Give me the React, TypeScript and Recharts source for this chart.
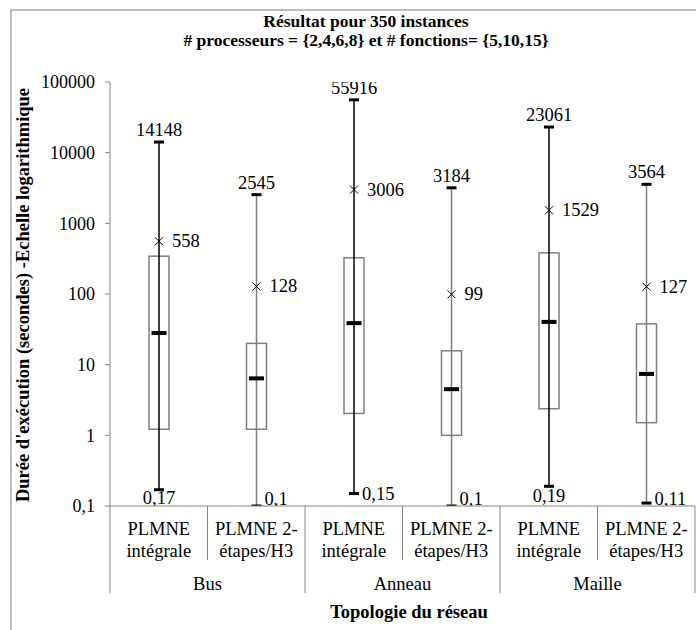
import React from 'react';
import { ComposedChart, Bar, XAxis, YAxis } from 'recharts';

// Values (log scale, seconds)
const groups = ['Bus', 'Anneau', 'Maille'];
const methodLines = [
  ['PLMNE', 'intégrale'],
  ['PLMNE 2-', 'étapes/H3'],
];
const mins = [0.17, 0.1, 0.15, 0.1, 0.19, 0.11];
const q1s = [1.22, 1.22, 2.04, 1.0, 2.38, 1.51];
const medians = [28, 6.4, 38.7, 4.5, 40.3, 7.4];
const q3s = [343, 20, 325, 15.7, 382, 37.8];
const means = [558, 128, 3006, 99, 1529, 127];
const maxs = [14148, 2545, 55916, 3184, 23061, 3564];
const yTicks = [0.1, 1, 10, 100, 1000, 10000, 100000];

const rows = mins.map((_, i) => ({
  key: `c${i}`,
  group: groups[Math.floor(i / 2)],
  method: i % 2,
  min: mins[i],
  q1: q1s[i],
  median: medians[i],
  q3: q3s[i],
  mean: means[i],
  max: maxs[i],
  range: [mins[i], maxs[i]],
}));

// layout
const W = 696;
const H = 630;
const PLOT_LEFT = 110;
const PLOT_RIGHT = 695;
const PLOT_TOP = 82;
const PLOT_BOTTOM = 506;
const BAND = (PLOT_RIGHT - PLOT_LEFT) / rows.length;
const FONT = "'Liberation Serif', Tinos, 'Times New Roman', Times, serif";
const FS = 18.5;
const AXIS_GRAY = '#868686';
const minLabelSide = ['below', 'right', 'right', 'right', 'below', 'right'];

const fmt = (v: number) => String(v).replace('.', ',');

function BoxShape(props: any) {
  const { x, y, width, height, index } = props;
  const d = props.payload ?? props;
  const cx = x + width / 2;
  const lmax = Math.log10(d.max);
  const ppd = height / (lmax - Math.log10(d.min));
  const toY = (v: number) => y + (lmax - Math.log10(v)) * ppd;
  const whisker = d.method === 0 ? '#000' : '#7f7f7f';
  const yq3 = toY(d.q3);
  const yq1 = toY(d.q1);
  const ymed = toY(d.median);
  const ymean = toY(d.mean);
  const ymin = toY(d.min);
  const ymax = toY(d.max);
  const side = minLabelSide[index];
  return (
    <g>
      <rect x={x} y={yq3} width={width} height={yq1 - yq3} fill="#fff" stroke="#7f7f7f" strokeWidth={1.5} />
      <line x1={cx} x2={cx} y1={ymax} y2={ymin} stroke={whisker} strokeWidth={1.5} />
      <rect x={cx - 5} y={ymax - 1.5} width={10} height={3} fill="#000" />
      <rect x={cx - 5} y={ymin - 1.5} width={10} height={3} fill="#000" />
      <rect x={cx - 7.5} y={ymed - 2} width={15} height={4} fill="#000" />
      <path
        d={`M${cx - 4},${ymean - 4}L${cx + 4},${ymean + 4}M${cx - 4},${ymean + 4}L${cx + 4},${ymean - 4}`}
        stroke="#000"
        strokeWidth={1}
      />
      <text x={cx} y={ymax - 6} textAnchor="middle" fontFamily={FONT} fontSize={FS} fill="#000">
        {fmt(d.max)}
      </text>
      <text x={cx + 13} y={ymean} dominantBaseline="central" fontFamily={FONT} fontSize={FS} fill="#000">
        {fmt(d.mean)}
      </text>
      {side === 'below' ? (
        <text x={cx} y={Math.min(ymin + 16, 504)} textAnchor="middle" fontFamily={FONT} fontSize={FS} fill="#000">
          {fmt(d.min)}
        </text>
      ) : (
        <text x={cx + 8} y={Math.min(ymin, 499)} dominantBaseline="central" fontFamily={FONT} fontSize={FS} fill="#000">
          {fmt(d.min)}
        </text>
      )}
    </g>
  );
}

function CategoryTick(props: any) {
  const { x, payload } = props;
  const i = rows.findIndex((r) => r.key === payload.value);
  if (i < 0) return null;
  const r = rows[i];
  const lines = methodLines[r.method];
  const right = x + BAND / 2;
  const left = x - BAND / 2;
  const isGroupEnd = r.method === 1;
  return (
    <g>
      {i === 0 && <line x1={left} x2={left} y1={PLOT_BOTTOM} y2={593} stroke={AXIS_GRAY} strokeWidth={1} />}
      <line x1={right} x2={right} y1={PLOT_BOTTOM} y2={isGroupEnd ? 593 : 560} stroke={AXIS_GRAY} strokeWidth={1} />
      <text x={x} y={535} textAnchor="middle" fontFamily={FONT} fontSize={FS} fill="#000">
        {lines[0]}
      </text>
      <text x={x} y={557} textAnchor="middle" fontFamily={FONT} fontSize={FS} fill="#000">
        {lines[1]}
      </text>
      {r.method === 0 && (
        <text x={right} y={590} textAnchor="middle" fontFamily={FONT} fontSize={FS} fill="#000">
          {r.group}
        </text>
      )}
    </g>
  );
}

export default function App() {
  return (
    <div style={{ position: 'relative', width: W, height: H, overflow: 'hidden', background: '#fff' }}>
      <style>{'body{margin:0}'}</style>
      <ComposedChart
        width={W}
        height={H}
        data={rows}
        margin={{ top: PLOT_TOP, right: W - PLOT_RIGHT, left: 20, bottom: 24 }}
      >
        <XAxis
          dataKey="key"
          height={100}
          tickLine={false}
          axisLine={{ stroke: AXIS_GRAY, strokeWidth: 1 }}
          tick={<CategoryTick />}
          interval={0}
        />
        <YAxis
          width={PLOT_LEFT - 20}
          scale="log"
          domain={[0.1, 100000]}
          ticks={yTicks}
          allowDataOverflow
          tickFormatter={fmt}
          tickSize={5}
          tickMargin={10}
          tickLine={{ stroke: AXIS_GRAY }}
          axisLine={{ stroke: AXIS_GRAY, strokeWidth: 1 }}
          tick={{ fontFamily: FONT, fontSize: 18, fill: '#000' }}
        />
        <Bar dataKey="range" barSize={20} shape={<BoxShape />} isAnimationActive={false} />
      </ComposedChart>
      <svg
        width={W}
        height={H}
        style={{ position: 'absolute', left: 0, top: 0, pointerEvents: 'none' }}
      >
        <rect x={11} y={10} width={W + 20} height={H + 20} fill="none" stroke="#a6a6a6" strokeWidth={1.5} />
        <text x={366} y={27} textAnchor="middle" fontFamily={FONT} fontSize={17.5} fontWeight="bold">
          Résultat pour 350 instances
        </text>
        <text x={366} y={46} textAnchor="middle" fontFamily={FONT} fontSize={17.5} fontWeight="bold">
          # processeurs = {'{2,4,6,8}'} et # fonctions= {'{5,10,15}'}
        </text>
        <text
          x={29}
          y={295}
          transform="rotate(-90 29 295)"
          textAnchor="middle"
          fontFamily={FONT}
          fontSize={FS}
          fontWeight="bold"
        >
          Durée d'exécution (secondes) -Echelle logarithmique
        </text>
        <text x={409} y={618} textAnchor="middle" fontFamily={FONT} fontSize={FS} fontWeight="bold">
          Topologie du réseau
        </text>
      </svg>
    </div>
  );
}
